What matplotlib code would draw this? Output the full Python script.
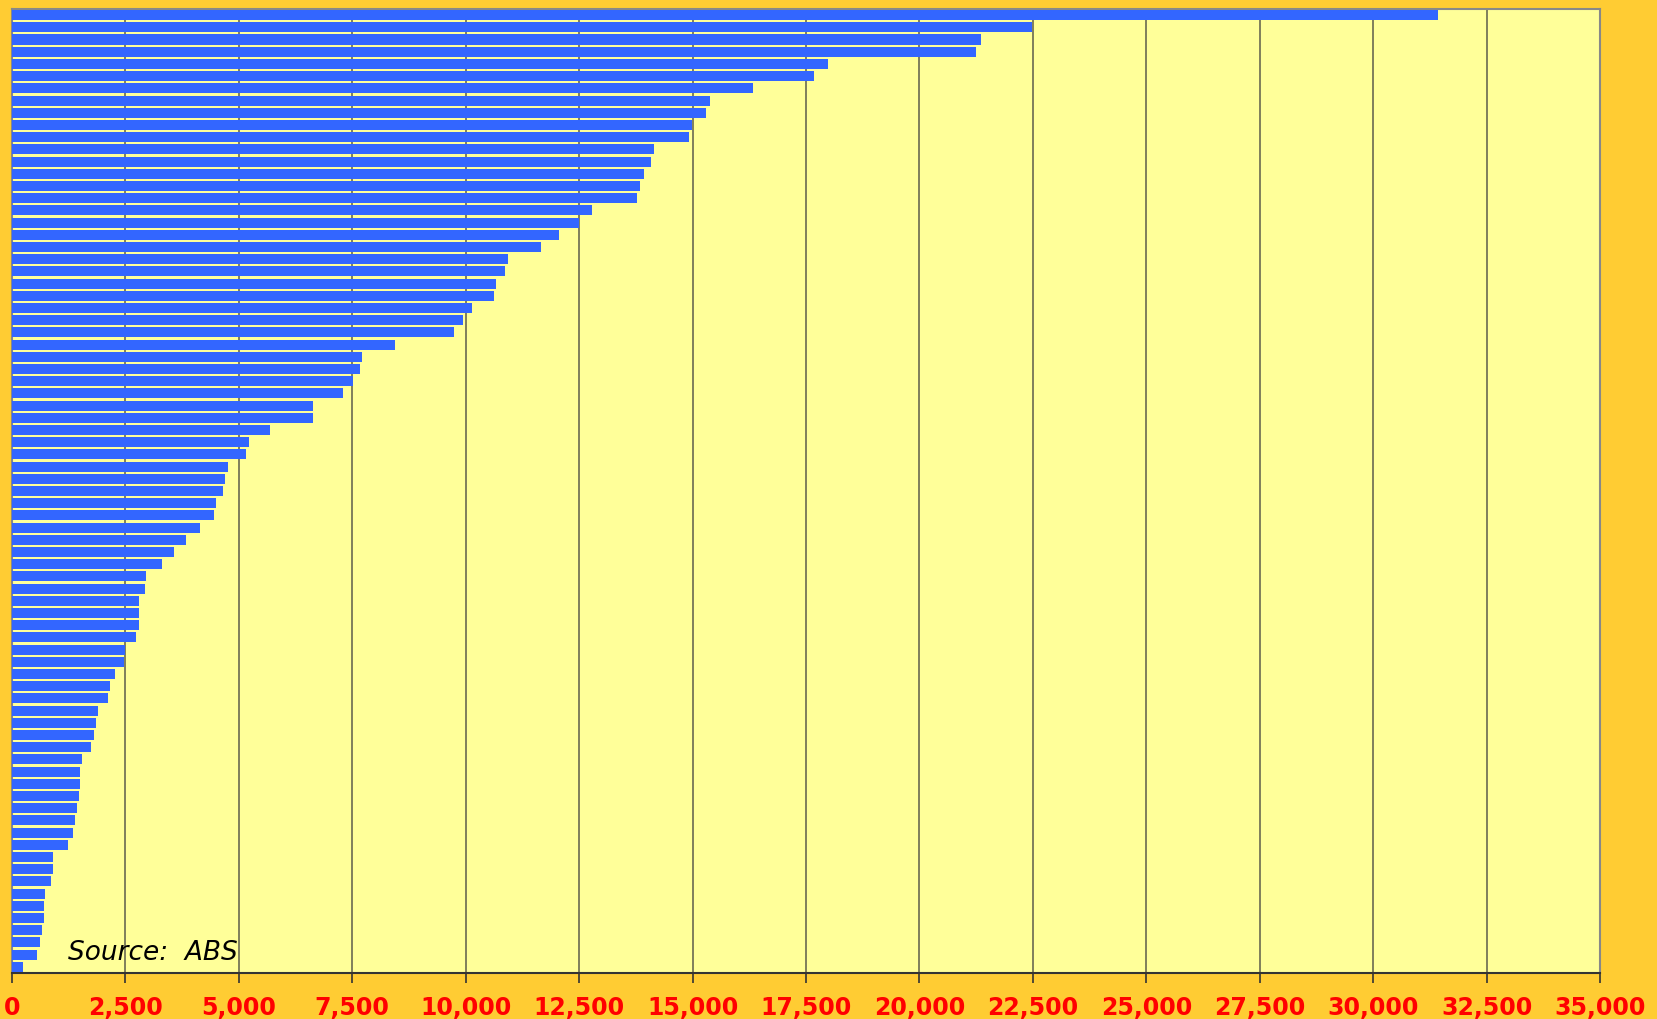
import numpy as np
import matplotlib.pyplot as plt

# values, top bar first
values = [31420, 22480, 21350, 21250, 17990, 17680, 16330, 15380, 15300, 14995,
          14920, 14150, 14085, 13930, 13840, 13780, 12780, 12500, 12060, 11655,
          10935, 10870, 10665, 10620, 10140, 9935, 9745, 8440, 7720, 7675,
          7505, 7290, 6630, 6630, 5685, 5225, 5155, 4760, 4695, 4650,
          4495, 4450, 4145, 3835, 3570, 3305, 2955, 2930, 2800, 2800,
          2800, 2735, 2490, 2470, 2270, 2160, 2115, 1895, 1850, 1805,
          1740, 1545, 1500, 1500, 1475, 1435, 1390, 1345, 1235, 905,
          905, 860, 725, 705, 705, 660, 615, 550, 240]
x_ticks = list(range(0, 35001, 2500))
tick_labels = [f"{t:,}" for t in x_ticks]
source_text = "Source:  ABS"

fig = plt.figure(figsize=(16.57, 10.2), dpi=100, facecolor="#FFCC33")
ax = fig.add_axes([0.00724, 0.0451, 0.9584, 0.9451])
ax.set_facecolor("#FFFF99")

pos = np.arange(len(values))
ax.barh(pos, values, height=0.82, color="#3366FF", zorder=3)
ax.set_ylim(len(values) - 0.5, -0.5)
ax.set_xlim(0, 35000)

ax.set_xticks(x_ticks)
ax.set_xticklabels(tick_labels, color="#FF0000", fontsize=17, fontweight="bold",
                   family="DejaVu Sans")
ax.tick_params(axis="x", direction="out", length=7, width=1.2, color="#333333", pad=9)
ax.set_yticks([])

ax.grid(axis="x", color="#5c5c4c", linewidth=1.1, zorder=1)
for side in ["top", "right", "left"]:
    ax.spines[side].set_color("#888888")
    ax.spines[side].set_linewidth(1.5)
ax.spines["bottom"].set_color("#333333")
ax.spines["bottom"].set_linewidth(1.5)

ax.text(0.0353, 0.0145, source_text, transform=ax.transAxes, fontsize=19,
        style="italic", color="black", va="baseline", ha="left", zorder=4)

fig.savefig("out.png", dpi=100, facecolor=fig.get_facecolor())
